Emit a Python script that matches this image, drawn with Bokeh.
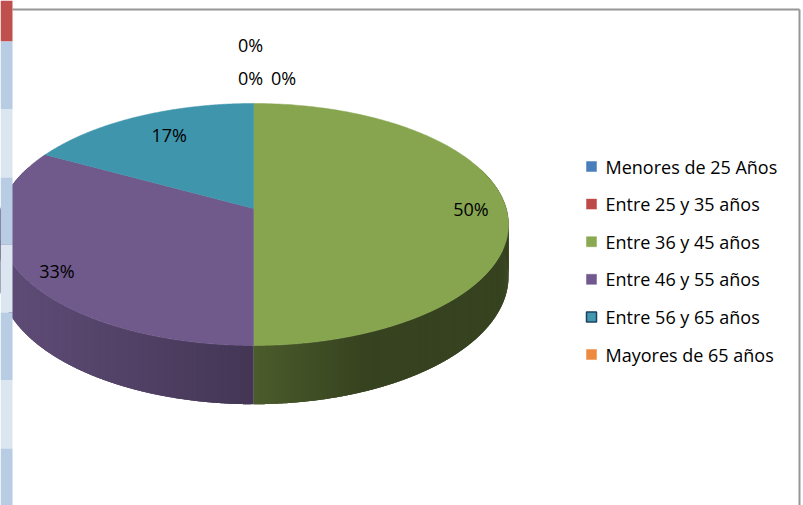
import numpy as np
from bokeh.plotting import figure
from bokeh.models import Range1d
from bokeh.core.properties import value
from bokeh.embed import file_html
from bokeh.resources import INLINE

# ---------------- data ----------------
categories = ["Menores de 25 Años", "Entre 25 y 35 años", "Entre 36 y 45 años",
              "Entre 46 y 55 años", "Entre 56 y 65 años", "Mayores de 65 años"]
shares = [0, 0, 50, 33, 17, 0]          # percent
pct_labels = [f"{s}%" for s in shares]

# ---------------- styles ----------------
top_colors = ["#4F81BD", "#C0504D", "#87A54F", "#705A8C", "#3F95AC", "#F79646"]
legend_colors = ["#4A7EBB", "#BE4B48", "#8BA852", "#71598F", "#4198AF", "#EE8A3F"]
legend_lines = [None, None, None, None, "#1F3F5F", None]
FONT = "Open Sans"

# pie geometry in page pixels (y grows downward)
CX, Y0 = 253.0, 208.0      # projected centre of the pie
A, B, K = 252.8, 118.9, 0.132
DROP = 51.0
# label placement: radial fraction, plus small nudges (px) and stacking for zero slices
LABEL_R = 0.86
label_nudge = [(-3, -58), (-3, -25), (0, 0), (4, 7), (15, 6), (30, -25)]

W, H = 803, 505
p = figure(width=W, height=H, output_backend="svg", toolbar_location=None,
           x_range=Range1d(0, W), y_range=Range1d(H, 0), min_border=0)
p.axis.visible = False
p.grid.visible = False
p.outline_line_color = None
p.background_fill_color = "white"
p.border_fill_color = "white"


def proj(phi, drop=0.0):
    u, v = np.cos(phi), np.sin(phi)
    w = 1 + K * v
    return CX + A * u / w, Y0 - B * v / w + drop / w


def shade(x):
    if x < CX:
        return 0.86 - (0.86 - 0.61) * x / CX
    t = min(1.0, (x - CX) / 110.0)
    return 0.56 - 0.15 * t


def hex2rgb(h):
    h = h.lstrip("#")
    return tuple(int(h[i:i + 2], 16) for i in (0, 2, 4))


def rgb2hex(c):
    return "#%02x%02x%02x" % tuple(int(max(0, min(255, v))) for v in c)


fr = np.cumsum([0] + shares) / 100.0
starts = np.pi / 2 - 2 * np.pi * fr[:-1]
ends = np.pi / 2 - 2 * np.pi * fr[1:]

# sides: overlapping thin strips carrying a horizontal shading gradient
sx, sy, sc = [], [], []
for i, s in enumerate(shares):
    if s <= 0:
        continue
    base = hex2rgb(top_colors[i])
    n = int(abs(ends[i] - starts[i]) * 150) + 2
    phis = np.linspace(starts[i], ends[i], n)
    step = phis[1] - phis[0]
    for a0 in phis[:-1]:
        if np.sin(a0) > 0.35:
            continue
        a1 = a0 + step * 2.5
        if (a1 - ends[i]) * step > 0:
            a1 = ends[i]
        arc = np.linspace(a0, a1, 4)
        xt, yt = proj(arc)
        xb, yb = proj(arc[::-1], DROP)
        f = shade(proj(a0 + step / 2)[0])
        sx.append(list(xt) + list(xb))
        sy.append(list(yt) + list(yb))
        sc.append(rgb2hex([c * f for c in base]))
p.patches(sx, sy, fill_color=sc, line_color=None)

# top faces
tx, ty, tc = [], [], []
for i, s in enumerate(shares):
    if s <= 0:
        continue
    phis = np.linspace(starts[i], ends[i], 200)
    xs, ys = proj(phis)
    tx.append([CX] + list(xs))
    ty.append([Y0] + list(ys))
    tc.append(top_colors[i])
p.patches(tx, ty, fill_color=tc, line_color=tc, line_width=0.5)

# percentage labels
lab_x, lab_y = [], []
for i, s in enumerate(shares):
    mid = (starts[i] + ends[i]) / 2
    if s > 0:
        lx, ly = proj(mid)
        lx = CX + (lx - CX) * LABEL_R
        ly = Y0 + (ly - Y0) * LABEL_R
    else:
        lx, ly = proj(np.pi / 2)
    lab_x.append(lx + label_nudge[i][0])
    lab_y.append(ly + label_nudge[i][1])
p.text(lab_x, lab_y, text=pct_labels, text_font=value(FONT), text_font_size="18px",
       text_align="center", text_baseline="middle", text_color="black")

# legend
LX, LY, STEP = 591, 166, 37.6
ly = [LY + STEP * i for i in range(len(categories))]
for i in range(len(categories)):
    p.rect([LX], [ly[i]], width=10, height=10, fill_color=legend_colors[i],
           line_color=legend_lines[i] if legend_lines[i] else legend_colors[i],
           line_width=1.5 if legend_lines[i] else 0.5)
p.text([605] * len(categories), ly, text=categories, text_font=value(FONT),
       text_font_size="18px", text_align="left", text_baseline="middle", text_color="black")

# chart border (top and right)
p.line([12, 799], [9, 9], line_color="#969696", line_width=2)
p.line([799, 799], [9, 505], line_color="#969696", line_width=2)

# spreadsheet cells visible at the left
cell_edges = [0, 41, 109, 177, 244, 312, 380, 448, 505]
cell_colors = ["#C0504D", "#B8CCE4", "#DCE6F1", "#B8CCE4", "#DCE6F1", "#B8CCE4", "#DCE6F1", "#B8CCE4"]
p.quad(left=0, right=12, top=cell_edges[:-1], bottom=cell_edges[1:],
       fill_color=cell_colors, line_color=None)

open("out.html", "w").write(file_html(p, INLINE))
